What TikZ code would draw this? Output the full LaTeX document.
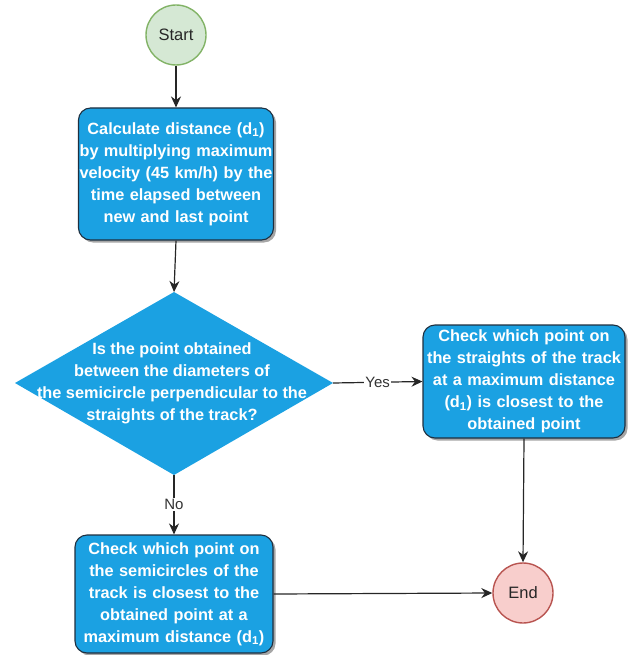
\documentclass[tikz,border=0pt]{standalone}
\usepackage{fontspec}
\setmainfont{Liberation Sans}
\usetikzlibrary{arrows.meta,shadows}
\definecolor{procfill}{HTML}{1BA1E2}
\definecolor{procdraw}{HTML}{1F2F3F}
\definecolor{startfill}{HTML}{D5E8D4}
\definecolor{startdraw}{HTML}{82B366}
\definecolor{endfill}{HTML}{F8CECC}
\definecolor{enddraw}{HTML}{B85450}
\definecolor{labgray}{HTML}{333333}
\tikzset{
  procbox/.style={rectangle, rounded corners=12pt, fill=procfill, draw=procdraw, line width=1.1pt,
    text=white, font=\fontsize{16.3}{22}\selectfont\bfseries, align=center, inner sep=1pt,
    drop shadow={shadow xshift=2.5pt, shadow yshift=-2.5pt, fill=black, opacity=0.35}},
  termnode/.style={circle, line width=1.4pt, minimum size=60pt, inner sep=0pt,
    font=\fontsize{16.5}{18}\selectfont, text=black!85},
  flow/.style={line width=1.2pt, draw=black!85, -{Stealth[length=11pt,width=10pt]}},
  edgelab/.style={fill=white, inner sep=1pt, text=labgray, font=\fontsize{15}{17}\selectfont}
}
\begin{document}
\begin{tikzpicture}[x=1pt,y=-1pt]
\useasboundingbox (0,0) rectangle (630,655);
\node[termnode, fill=startfill, draw=startdraw] (start) at (176,35) {Start};
\node[procbox, minimum width=195pt, minimum height=132pt, text width=193pt] (calc) at (176,174)
  {Calculate distance (d\textsubscript{1})\\ by multiplying maximum\\ velocity (45 km/h) by the\\ time elapsed between\\ new and last point};
% decision diamond
\coordinate (dect) at (174,292);
\coordinate (decl) at (15,383);
\coordinate (decr) at (333,383);
\coordinate (decb) at (174,475);
\fill[procfill] (dect) -- (decr) -- (decb) -- (decl) -- cycle;
\node[text=white, font=\fontsize{16.3}{22}\selectfont\bfseries, align=center] (dec) at (172,383)
  {Is the point obtained\\ between the diameters of\\ the semicircle perpendicular to the\\ straights of the track?};
\node[procbox, minimum width=202pt, minimum height=113pt, text width=200pt] (straight) at (524,381.5)
  {Check which point on\\ the straights of the track\\ at a maximum distance\\ (d\textsubscript{1}) is closest to the\\ obtained point};
\node[procbox, minimum width=198pt, minimum height=118pt, text width=196pt] (semi) at (174,594)
  {Check which point on\\ the semicircles of the\\ track is closest to the\\ obtained point at a\\ maximum distance (d\textsubscript{1})};
\node[termnode, fill=endfill, draw=enddraw] (end) at (523,593) {End};
% connectors
\draw[flow] (start) -- (calc);
\draw[flow] (calc.south) -- (dect);
\draw[flow] (decr) -- node[edgelab] {Yes} (straight.west);
\draw[flow] (decb) -- node[edgelab, pos=0.5] {No} (semi.north);
\draw[flow] (straight.south) -- (end.north);
\draw[flow] (semi.east) -- (end.west);
\end{tikzpicture}
\end{document}
